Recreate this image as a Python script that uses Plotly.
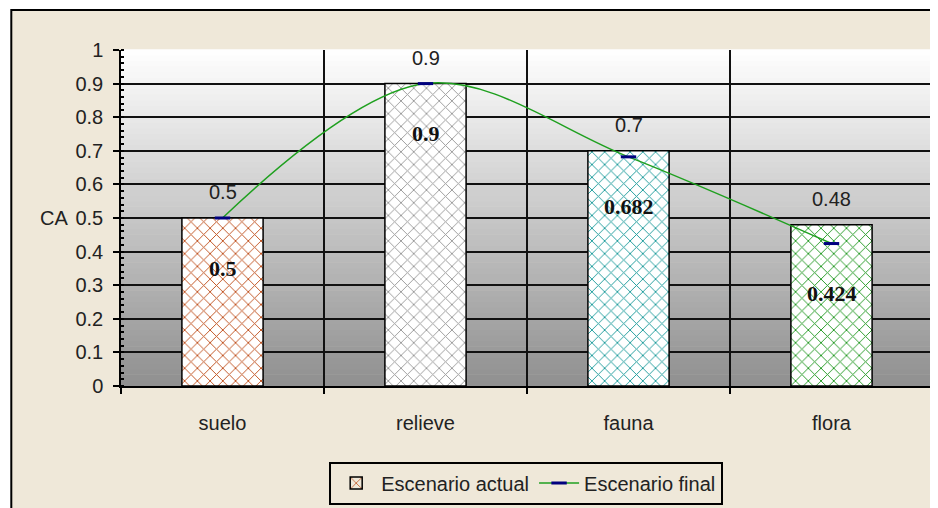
import plotly.graph_objects as go

categorias = ['suelo', 'relieve', 'fauna', 'flora']
escenario_actual = [0.5, 0.9, 0.7, 0.48]
escenario_final = [0.5, 0.9, 0.682, 0.424]
colores_barra = ['#C0521F', '#9A9A9A', '#1E9C9C', '#249A24']
y_ticks = [0, 0.1, 0.2, 0.3, 0.4, 0.5, 0.6, 0.7, 0.8, 0.9, 1]

beige = '#EFE8D9'
fuente = 'Arial, Liberation Sans, sans-serif'

fig = go.Figure()

# marco exterior (primero, para quedar debajo de todo)
fig.add_shape(type='rect', xref='paper', yref='paper',
              x0=-0.1351, x1=1.2, y0=-0.6, y1=1.1187, layer='below',
              fillcolor=beige, line=dict(color='black', width=2))

# fondo degradado del area de trazado
n = 60
for i in range(n):
    t = (i + 0.5) / n
    g = int(round(143 + (255 - 143) * t))
    fig.add_shape(type='rect', xref='paper', yref='paper', x0=0, x1=1,
                  y0=i / n, y1=(i + 1) / n + 0.002, layer='below',
                  fillcolor='rgb(%d,%d,%d)' % (g, g, g), line=dict(width=0))

# fondo blanco de las barras
fig.add_trace(go.Bar(
    x=categorias, y=escenario_actual, width=0.4, showlegend=False,
    marker=dict(color='white', line=dict(width=0)), hoverinfo='skip',
))

fig.add_trace(go.Bar(
    x=categorias, y=escenario_actual, name='Escenario actual',
    width=0.4,
    marker=dict(
        color=colores_barra,
        line=dict(color='black', width=1.5),
        pattern=dict(shape='x', size=9, solidity=0.2, fillmode='replace'),
    ),
    hoverinfo='skip',
))

fig.add_trace(go.Scatter(
    x=categorias, y=escenario_final, name='Escenario final',
    mode='lines+markers',
    line=dict(color='#1FA01F', width=1.5, shape='spline', smoothing=1),
    marker=dict(symbol='line-ew', size=11, line=dict(color='#00007F', width=3)),
))

# etiquetas de valor
for c, v in zip(categorias, escenario_actual):
    fig.add_annotation(x=c, y=v, text=str(v), showarrow=False, yshift=26,
                       font=dict(family=fuente, size=20, color='#222'))
for c, v in zip(categorias, escenario_final):
    fig.add_annotation(x=c, y=v, text='<b>%g</b>' % v, showarrow=False, yshift=-50,
                       font=dict(family='Times New Roman, Liberation Serif, serif',
                                 size=22, color='#111'))

fig.add_annotation(xref='paper', yref='y', x=-0.0625, y=0.5, text='CA',
                   showarrow=False, xanchor='right',
                   font=dict(family=fuente, size=20, color='#222'))

fig.update_layout(
    width=930, height=500,
    margin=dict(l=113, r=3, t=42, b=121),
    paper_bgcolor='white', plot_bgcolor='rgba(0,0,0,0)',
    font=dict(family=fuente, size=20, color='#222'),
    barmode='overlay',
    showlegend=True,
    legend=dict(orientation='h', x=0.499, xanchor='center', y=-0.225, yanchor='top',
                bgcolor=beige, bordercolor='black', borderwidth=2,
                font=dict(family=fuente, size=20, color='#222'),
                itemwidth=40, tracegroupgap=0),
    xaxis=dict(type='category', tickson='boundaries', ticks='outside', ticklen=6,
               tickcolor='black', tickwidth=1.5, showgrid=True, gridcolor='#111',
               gridwidth=1.5, showline=True, linecolor='black', linewidth=1.5,
               ticklabelstandoff=18, range=[-0.5, 3.5]),
    yaxis=dict(range=[0, 1], tickvals=y_ticks, ticktext=[('%g' % v) for v in y_ticks],
               ticks='outside', ticklen=6, tickcolor='black', tickwidth=1.5,
               showgrid=True, gridcolor='#111', gridwidth=1.5,
               showline=True, linecolor='black', linewidth=1.5, mirror=True,
               zeroline=False, ticklabelstandoff=6,
               minor=dict(ticks='inside', dtick=0.02, ticklen=3, tickcolor='black',
                          showgrid=False)),
)

fig.write_html('out.html')
